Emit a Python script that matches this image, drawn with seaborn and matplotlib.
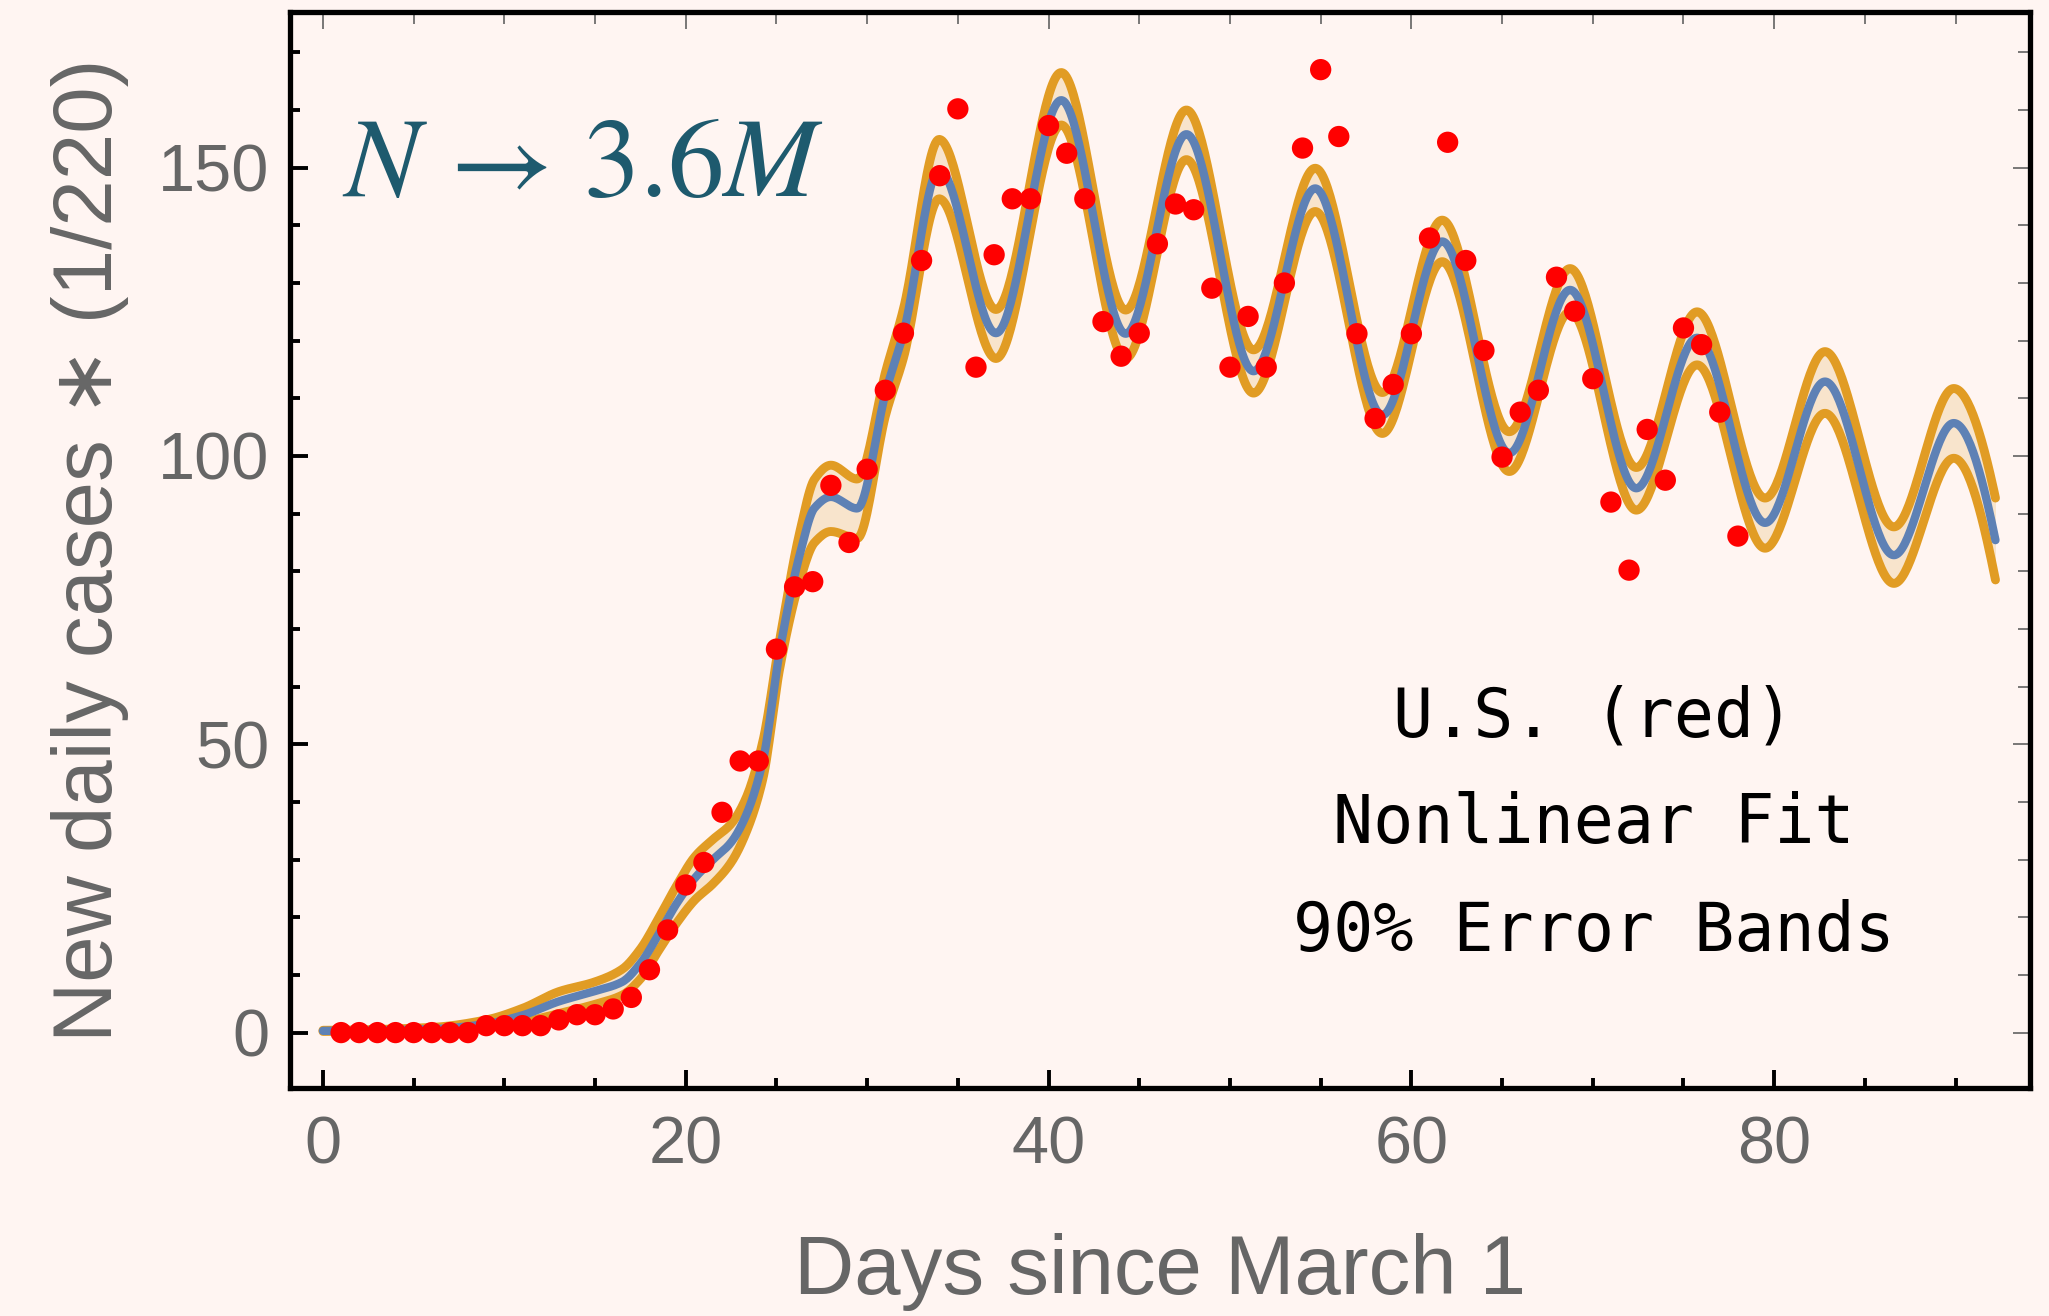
import numpy as np
import pandas as pd
import matplotlib
matplotlib.use("Agg")
import matplotlib.pyplot as plt
import seaborn as sns
from matplotlib.ticker import MultipleLocator

# Observed U.S. new daily cases (scaled by 1/220), one value per day since March 1
days = list(range(1, 79))
cases = [
    0, 0, 0, 0, 0, 0, 0, 0, 1.2, 1.2,
    1.2, 1.2, 2.2, 3.1, 3.1, 4.1, 6.1, 10.9, 17.8, 25.6,
    29.5, 38.2, 47.1, 47.1, 66.5, 77.3, 78.2, 94.9, 85.0, 97.7,
    111.4, 121.3, 133.9, 148.6, 160.2, 115.4, 134.9, 144.6, 144.6, 157.3,
    152.5, 144.6, 123.3, 117.3, 121.3, 136.8, 143.7, 142.7, 129.1, 115.4,
    124.2, 115.4, 130.0, 153.4, 167.0, 155.4, 121.2, 106.5, 112.4, 121.2,
    137.8, 154.4, 133.9, 118.3, 99.8, 107.6, 111.4, 131.0, 125.1, 113.4,
    92.0, 80.2, 104.6, 95.8, 122.2, 119.3, 107.6, 86.1,
]

# Nonlinear fit and its 90% error bands, sampled at knot days
fit_days = [0, 6, 9, 11, 13, 15, 16.5, 17.5, 18.5, 19.5,
            20.5, 21.5, 22.5, 23.3, 24.25, 25.2, 26.3, 27.1, 28.0, 29.45,
            31.05, 32.0, 33.97, 37.1, 40.7, 44.25, 47.6, 51.3, 54.7, 58.4,
            61.7, 65.4, 68.75, 72.4, 75.75, 79.5, 82.8, 86.6, 89.9, 92.2]
fit_mid = [0.3, 0.6, 1.5, 3.0, 5.4, 7.2, 8.8, 12.0, 17.0, 22.4,
           26.8, 30.0, 33.0, 37.5, 47.1, 66.5, 83.1, 91.0, 92.9, 90.9,
           111.4, 121.3, 149.7, 121.3, 161.7, 121.2, 155.8, 114.7, 146.4, 107.1,
           137.2, 100.5, 128.8, 94.4, 120.5, 88.4, 112.9, 82.8, 105.7, 85.4]
fit_hi = [0.4, 0.9, 2.2, 4.2, 7.1, 8.8, 11.0, 14.5, 19.8, 25.5,
          30.5, 33.5, 36.2, 40.5, 50.5, 68.5, 87.0, 96.0, 98.4, 96.0,
          115.0, 125.5, 154.9, 125.4, 166.5, 125.3, 160.0, 118.4, 149.9, 111.0,
          140.9, 104.2, 132.5, 98.0, 125.0, 92.7, 118.1, 87.7, 111.7, 92.7]
fit_lo = [0.2, 0.4, 0.9, 1.8, 3.3, 4.9, 6.5, 9.3, 14.2, 19.0,
          23.0, 25.8, 29.5, 34.5, 44.0, 63.5, 78.5, 85.0, 86.9, 85.7,
          107.5, 117.0, 144.6, 116.9, 157.4, 116.9, 151.4, 110.9, 142.4, 103.9,
          133.7, 97.3, 125.0, 90.6, 115.8, 84.0, 107.4, 77.9, 99.6, 78.5]

x_major_ticks = [0, 20, 40, 60, 80]
y_major_ticks = [0, 50, 100, 150]


def pchip(xk, yk, xs):
    """Shape-preserving piecewise cubic Hermite curve through the knots."""
    xk = np.asarray(xk, float)
    yk = np.asarray(yk, float)
    h = np.diff(xk)
    delta = np.diff(yk) / h
    n = len(xk)
    d = np.zeros(n)
    for k in range(1, n - 1):
        if delta[k - 1] * delta[k] > 0:
            w1 = 2 * h[k] + h[k - 1]
            w2 = h[k] + 2 * h[k - 1]
            d[k] = (w1 + w2) / (w1 / delta[k - 1] + w2 / delta[k])

    def end_slope(h0, h1, d0, d1):
        s = ((2 * h0 + h1) * d0 - h0 * d1) / (h0 + h1)
        if np.sign(s) != np.sign(d0):
            return 0.0
        if np.sign(d0) != np.sign(d1) and abs(s) > abs(3 * d0):
            return 3 * d0
        return s

    d[0] = end_slope(h[0], h[1], delta[0], delta[1])
    d[-1] = end_slope(h[-1], h[-2], delta[-1], delta[-2])
    idx = np.clip(np.searchsorted(xk, xs) - 1, 0, n - 2)
    t = (xs - xk[idx]) / h[idx]
    h00 = 2 * t**3 - 3 * t**2 + 1
    h10 = t**3 - 2 * t**2 + t
    h01 = -2 * t**3 + 3 * t**2
    h11 = t**3 - t**2
    return (h00 * yk[idx] + h10 * h[idx] * d[idx]
            + h01 * yk[idx + 1] + h11 * h[idx] * d[idx + 1])


# Smooth curves for drawing
xs = np.linspace(fit_days[0], fit_days[-1], 1200)
curves = pd.DataFrame({
    "day": xs,
    "mid": pchip(fit_days, fit_mid, xs),
    "hi": pchip(fit_days, fit_hi, xs),
    "lo": pchip(fit_days, fit_lo, xs),
})
obs = pd.DataFrame({"day": days, "cases": cases})

BG = "#FFF5F2"
ORANGE = "#E19C24"
BLUE = "#5E81B5"
BAND = "#F8E4CC"
GRAY = "#666666"

sns.set_theme(style="white")
plt.rcParams["font.family"] = ["Liberation Sans", "DejaVu Sans"]
plt.rcParams["mathtext.fontset"] = "stix"

fig = plt.figure(figsize=(20.49, 13.16), dpi=100, facecolor=BG)
ax = fig.add_axes([0.1415, 0.1733, 0.8492, 0.8176])
ax.set_facecolor(BG)

ax.fill_between(curves["day"], curves["lo"], curves["hi"], color=BAND, lw=0, zorder=1)
sns.lineplot(data=curves, x="day", y="hi", ax=ax, color=ORANGE, lw=6.4, zorder=2)
sns.lineplot(data=curves, x="day", y="lo", ax=ax, color=ORANGE, lw=6.4, zorder=2)
sns.lineplot(data=curves, x="day", y="mid", ax=ax, color=BLUE, lw=6.0, zorder=3)
sns.scatterplot(data=obs, x="day", y="cases", ax=ax, color="#FF0000", s=235,
                edgecolor="none", linewidth=0, zorder=4)

ax.set_xlim(-1.82, 94.1)
ax.set_ylim(-9.6, 177)

ax.xaxis.set_major_locator(MultipleLocator(20))
ax.xaxis.set_minor_locator(MultipleLocator(5))
ax.yaxis.set_major_locator(MultipleLocator(50))
ax.yaxis.set_minor_locator(MultipleLocator(10))
ax.set_xticks(x_major_ticks)
ax.set_yticks(y_major_ticks)

ax.tick_params(which="both", direction="in", color="black", width=2.8,
               labelcolor=GRAY, labelsize=48, top=False, right=False,
               bottom=True, left=True)
ax.tick_params(which="major", length=13)
ax.tick_params(which="minor", length=7)
ax.tick_params(axis="x", pad=20)
ax.tick_params(axis="y", pad=15)

for side in ["left", "right", "top", "bottom"]:
    ax.spines[side].set_visible(True)
    ax.spines[side].set_color("black")
    ax.spines[side].set_linewidth(3.8)

# Thin grey ticks along the top and right edges of the frame
top = ax.secondary_xaxis("top")
top.xaxis.set_major_locator(MultipleLocator(20))
top.xaxis.set_minor_locator(MultipleLocator(5))
top.tick_params(which="both", direction="in", color="#555555", width=1.1,
                labeltop=False, top=True)
top.tick_params(which="major", length=12)
top.tick_params(which="minor", length=8.5)
right = ax.secondary_yaxis("right")
right.yaxis.set_major_locator(MultipleLocator(50))
right.yaxis.set_minor_locator(MultipleLocator(10))
right.tick_params(which="both", direction="in", color="#555555", width=1.1,
                  labelright=False, right=True)
right.tick_params(which="major", length=12)
right.tick_params(which="minor", length=8.5)
for sec in (top, right):
    for sp in sec.spines.values():
        sp.set_visible(False)

ax.set_xlabel("Days since March 1", fontsize=60, color=GRAY, labelpad=40)
ax.set_ylabel("New daily cases \u2217 (1/220)", fontsize=60, color=GRAY, labelpad=21,
              family=["Liberation Sans", "DejaVu Sans"])

ax.text(1.05, 145.1, r"$N\,\rightarrow\,3.6M$", fontsize=81, color="#1E5A6E",
        ha="left", va="baseline", zorder=5)

legend_lines = ["U.S. (red)", "Nonlinear Fit", "90% Error Bands"]
for txt, yb in zip(legend_lines, [51.4, 32.9, 14.2]):
    ax.text(70.05, yb, txt, fontsize=48, family="DejaVu Sans Mono",
            color="black", ha="center", va="baseline", zorder=5)

fig.savefig("out.png", dpi=100, facecolor=BG)
